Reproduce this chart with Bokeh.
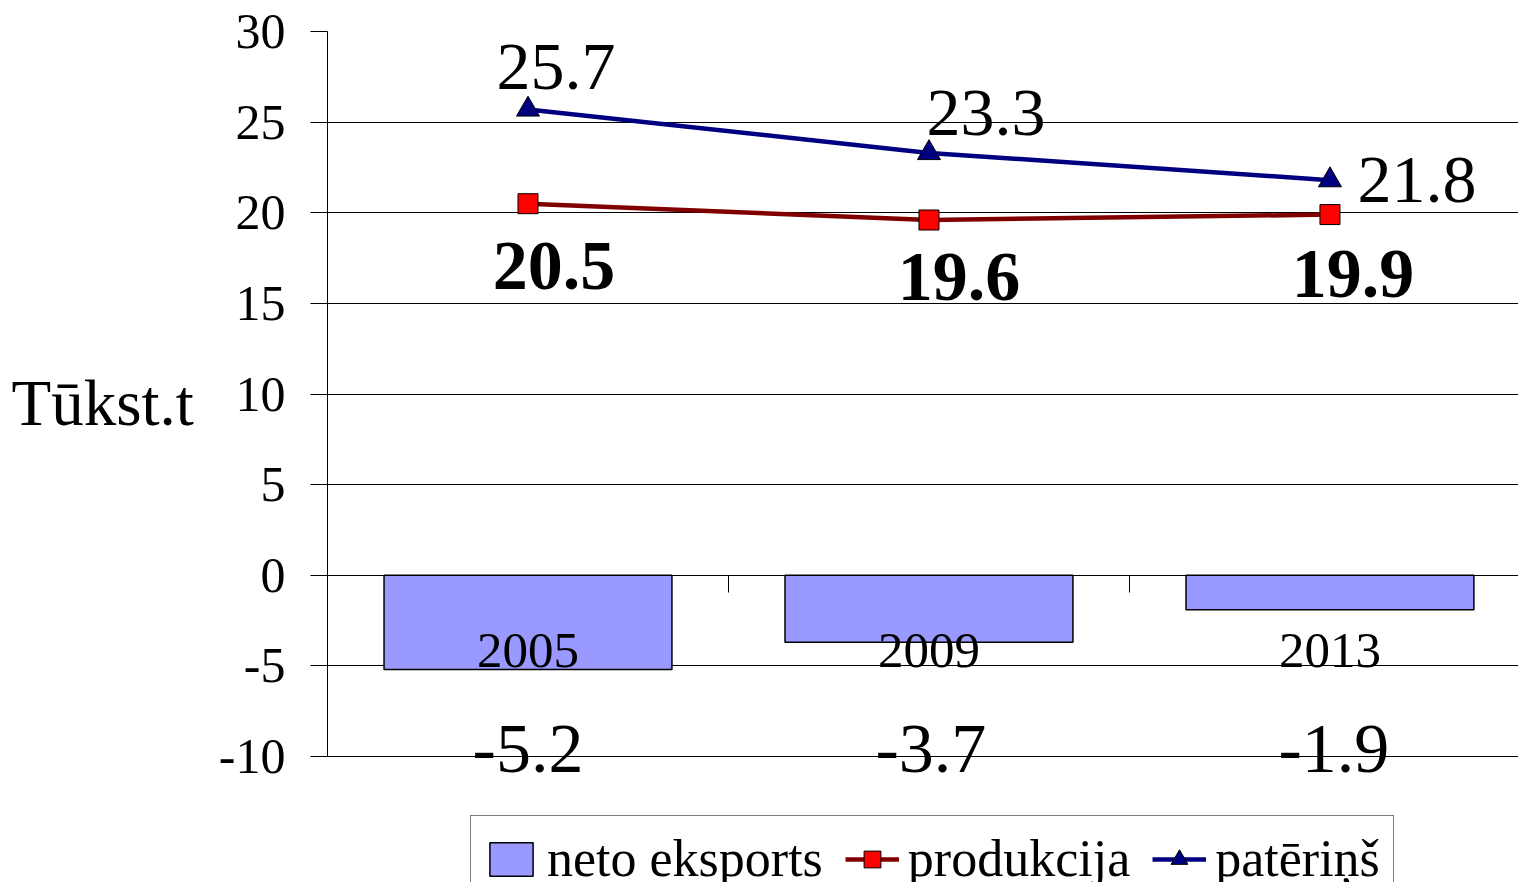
from bokeh.plotting import figure
from bokeh.models import (ColumnDataSource, Range1d, LinearAxis, FixedTicker, LabelSet,
                          Legend, LegendItem)
from bokeh.embed import file_html
from bokeh.resources import INLINE

# ---- data ----
years = ["2005", "2009", "2013"]
neto_eksports = [-5.2, -3.7, -1.9]
produkcija = [20.5, 19.6, 19.9]
paterins = [25.7, 23.3, 21.8]
y_ticks = [-10, -5, 0, 5, 10, 15, 20, 25, 30]
y_title = "Tūkst.t"

# ---- label placement (screen px offsets) ----
pat_dx = [28, 57, 87]
pat_dy = [42, 40, 0]
prod_dx = [26, 30, 23]
prod_dy = [-62, -57, -59]
neto_dx = [0, 2, 4]
neto_dy = [8, 8, 8]

FONT = "Liberation Serif"
xs = list(range(len(years)))

p = figure(width=1518, height=882,
           x_range=Range1d(-0.5, 2.4702), y_range=Range1d(-16.95, y_ticks[-1]),
           output_backend="svg", toolbar_location=None,
           x_axis_location=None, y_axis_location=None,
           min_border_left=327, min_border_right=0, min_border_top=31, min_border_bottom=0)
p.outline_line_color = None
p.background_fill_color = "white"
p.border_fill_color = "white"

yticker = FixedTicker(ticks=y_ticks)
yaxis = LinearAxis(ticker=yticker, bounds=(y_ticks[0], y_ticks[-1]))
yaxis.major_label_overrides = {t: str(t) for t in y_ticks}
yaxis.major_tick_out = 17
yaxis.major_tick_in = 0
yaxis.minor_tick_out = 0
yaxis.minor_tick_in = 0
yaxis.axis_line_color = "black"
yaxis.major_tick_line_color = "black"
yaxis.major_label_text_font = FONT
yaxis.major_label_text_font_size = "50px"
yaxis.major_label_text_color = "black"
yaxis.major_label_standoff = 25
# trailing empty line lifts the (frame-centred) title to the reference height
yaxis.axis_label = y_title + "\n"
yaxis.axis_label_orientation = "horizontal"
yaxis.axis_label_text_font = FONT
yaxis.axis_label_text_font_size = "65px"
yaxis.axis_label_text_font_style = "normal"
yaxis.axis_label_text_line_height = 1.5
yaxis.axis_label_text_color = "black"
yaxis.axis_label_standoff = 22
p.add_layout(yaxis, "left")

p.xgrid.visible = False
p.ygrid.ticker = yticker
p.ygrid.grid_line_color = "black"
p.ygrid.grid_line_width = 1

xaxis = LinearAxis(fixed_location=0,
                   ticker=FixedTicker(ticks=xs, minor_ticks=[-0.5] + [i + 0.5 for i in xs]))
xaxis.major_label_overrides = {i: y for i, y in zip(xs, years)}
xaxis.major_tick_out = 0
xaxis.major_tick_in = 0
xaxis.minor_tick_out = 17
xaxis.minor_tick_in = 0
xaxis.minor_tick_line_color = "black"
xaxis.axis_line_color = None
xaxis.major_label_text_font = FONT
xaxis.major_label_text_font_size = "51px"
xaxis.major_label_text_color = "black"
xaxis.major_label_standoff = 42
p.add_layout(xaxis, "below")

src = ColumnDataSource(dict(x=xs, years=years, neto=neto_eksports, prod=produkcija, pat=paterins))

bars = p.vbar(x="x", top="neto", bottom=0, width=0.718, source=src,
              fill_color="#9999FF", line_color="black", line_width=1.5)
prod_line = p.line(x="x", y="prod", source=src, line_color="#800000", line_width=4.5)
pat_line = p.line(x="x", y="pat", source=src, line_color="#000080", line_width=4.5)
prod_pts = p.scatter(x="x", y="prod", source=src, marker="square", size=20,
                     fill_color="#FF0000", line_color="black", line_width=1)
pat_pts = p.scatter(x="x", y="pat", source=src, marker="triangle", size=23,
                    fill_color="#000080", line_color="black", line_width=1)

def fmt(v):
    return f"{v:.1f}"

pat_src = ColumnDataSource(dict(x=xs, y=paterins, t=[fmt(v) for v in paterins], dx=pat_dx, dy=pat_dy))
prod_src = ColumnDataSource(dict(x=xs, y=produkcija, t=[fmt(v) for v in produkcija], dx=prod_dx, dy=prod_dy))
neto_src = ColumnDataSource(dict(x=xs, y=[y_ticks[0]] * len(xs), t=[fmt(v) for v in neto_eksports],
                                 dx=neto_dx, dy=neto_dy))

p.add_layout(LabelSet(x="x", y="y", text="t", source=pat_src, x_offset="dx", y_offset="dy",
                      text_font=FONT, text_font_size="68px", text_align="center",
                      text_baseline="middle", text_color="black"))
p.add_layout(LabelSet(x="x", y="y", text="t", source=prod_src, x_offset="dx", y_offset="dy",
                      text_font=FONT, text_font_size="70px", text_font_style="bold",
                      text_align="center", text_baseline="middle", text_color="black"))
p.add_layout(LabelSet(x="x", y="y", text="t", source=neto_src, x_offset="dx", y_offset="dy",
                      text_font=FONT, text_font_size="70px", text_align="center",
                      text_baseline="middle", text_color="black"))

legend = Legend(items=[LegendItem(label="neto eksports", renderers=[bars]),
                       LegendItem(label="produkcija", renderers=[prod_line, prod_pts]),
                       LegendItem(label="patēriņš", renderers=[pat_line, pat_pts])],
                orientation="horizontal", location=(143, -20))
legend.label_text_font = FONT
legend.label_text_font_size = "52px"
legend.label_text_color = "black"
legend.glyph_width = 54
legend.glyph_height = 42
legend.label_standoff = 9
legend.spacing = 22
legend.padding = 13
legend.margin = 0
legend.border_line_color = "black"
legend.border_line_width = 1
legend.background_fill_color = "white"
legend.background_fill_alpha = 1
p.add_layout(legend)

open("out.html", "w").write(file_html(p, INLINE))
